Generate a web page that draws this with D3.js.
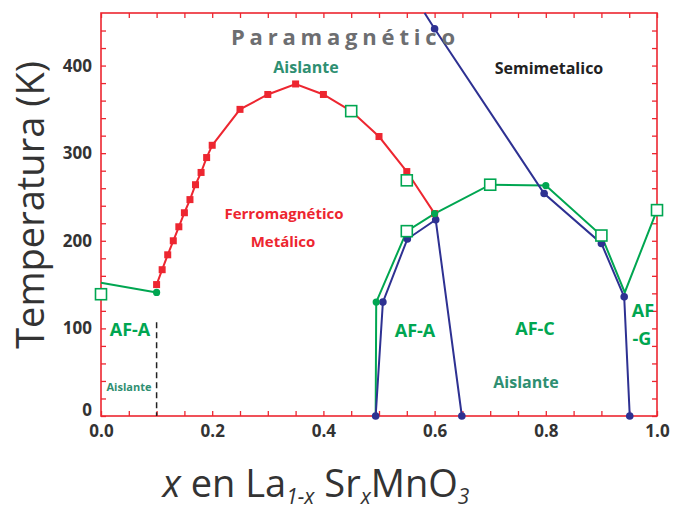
<!DOCTYPE html>
<html>
<head>
<meta charset="utf-8">
<script src="https://cdn.jsdelivr.net/npm/d3@7"></script>
<style>
  html, body { margin: 0; padding: 0; background: #fff; }
  svg { display: block; font-family: "Open Sans", "Noto Sans", sans-serif; }
</style>
</head>
<body>
<svg id="chart" width="674" height="510"></svg>
<script>
// ---------- data ----------
const xTickLabels = [0.0, 0.2, 0.4, 0.6, 0.8, 1.0];
const yTickLabels = [0, 100, 200, 300, 400];

// Ferromagnetic Tc (red filled squares)
const fmX = [0.10, 0.11, 0.12, 0.13, 0.14, 0.15, 0.16, 0.17, 0.18, 0.19, 0.20, 0.25, 0.30, 0.35, 0.40, 0.45, 0.50, 0.55, 0.60];
const fmT = [150, 167, 184, 200, 216, 232, 247, 264, 278, 295, 309, 350, 367, 379, 367, 348, 319, 279, 231];

// AF-A low-x segment (green line)
const afLowX = [0.0, 0.10];
const afLowT = [152, 141];

// Main AF boundary (green line)
const afX = [0.494, 0.495, 0.55, 0.60, 0.70, 0.80, 0.90, 0.942, 1.0];
const afT = [0, 130, 211, 231, 264, 263, 206, 141, 235];

// Green open squares
const openX = [0.0, 0.45, 0.55, 0.55, 0.70, 0.90, 1.0];
const openT = [139, 348, 269, 211, 264, 206, 235];

// Green filled circles
const gDotX = [0.10, 0.495, 0.60, 0.80];
const gDotT = [141, 130, 231, 263];

// Blue boundary A (AF-A dome)
const blueAX = [0.494, 0.507, 0.551, 0.602, 0.649];
const blueAT = [0, 130, 202, 224, 0];

// Blue boundary B (half-metal / AF-G)
const blueBX = [0.582, 0.60, 0.797, 0.90, 0.941, 0.951];
const blueBT = [460, 442, 254, 197, 136, 0];
const blueBMarked = [false, true, true, true, true, true];

// ---------- layout ----------
const svg = d3.select("#chart");
const L = 101, R = 657, T = 13, B = 416;
const x = d3.scaleLinear().domain([0, 1]).range([L, R]);
const y = d3.scaleLinear().domain([0, 460]).range([B, T]);

const RED = "#ed2630", GREEN = "#00a651", BLUE = "#2e3192", TEAL = "#2f8f72", GRAY = "#6d6e71", DARK = "#333333";

// ---------- axes & frame ----------
const tickFine = d3.range(0, 1.0001, 0.05);
const tickY = d3.range(0, 460, 20);

const styleTicks = g => { g.select(".domain").remove(); g.selectAll("line").attr("stroke", RED).attr("stroke-width", 1.3); };
svg.append("g").attr("transform", `translate(0,${B})`)
  .call(d3.axisBottom(x).tickValues(tickFine).tickSize(-5).tickFormat("")).call(styleTicks);
svg.append("g").attr("transform", `translate(0,${T})`)
  .call(d3.axisTop(x).tickValues(tickFine).tickSize(-5).tickFormat("")).call(styleTicks);
svg.append("g").attr("transform", `translate(${L},0)`)
  .call(d3.axisLeft(y).tickValues(tickY).tickSize(-5).tickFormat("")).call(styleTicks);
svg.append("g").attr("transform", `translate(${R},0)`)
  .call(d3.axisRight(y).tickValues(tickY).tickSize(-5).tickFormat("")).call(styleTicks);

// frame
svg.append("rect").attr("x", L).attr("y", T).attr("width", R - L).attr("height", B - T)
  .attr("fill", "none").attr("stroke", RED).attr("stroke-width", 1.6);

// tick labels
const styleLabels = g => { g.select(".domain").remove(); g.selectAll("text").attr("font-size", 17).attr("font-weight", "bold")
    .attr("fill", DARK).attr("font-family", "'Open Sans', sans-serif"); };
svg.append("g").attr("transform", `translate(0,${B + 1})`)
  .call(d3.axisBottom(x).tickValues(xTickLabels).tickSize(0).tickPadding(8).tickFormat(d3.format(".1f")))
  .call(styleLabels);
svg.append("g").attr("transform", `translate(${L},0)`)
  .call(d3.axisLeft(y).tickValues(yTickLabels).tickSize(0).tickPadding(9).tickFormat(d3.format("d")))
  .call(styleLabels)
  .call(g => g.selectAll(".tick").filter(d => d === 0).select("text").attr("dy", "-0.05em"));

// axis titles
svg.append("text").attr("transform", `translate(44,205) rotate(-90)`).attr("text-anchor", "middle")
  .attr("font-size", 38).attr("fill", DARK).text("Temperatura (K)");

const xt = svg.append("text").attr("x", 316).attr("y", 497).attr("text-anchor", "middle")
  .attr("font-size", 38).attr("fill", DARK);
xt.append("tspan").attr("font-style", "italic").text("x");
xt.append("tspan").text(" en La");
xt.append("tspan").attr("font-size", 21).attr("font-style", "italic").attr("dy", 7).text("1-x");
xt.append("tspan").attr("dy", -7).text(" Sr");
xt.append("tspan").attr("font-size", 21).attr("font-style", "italic").attr("dy", 7).text("x");
xt.append("tspan").attr("dy", -7).text("MnO");
xt.append("tspan").attr("font-size", 21).attr("font-style", "italic").attr("dy", 7).text("3");

// ---------- dashed line at x = 0.1 ----------
svg.append("line").attr("x1", x(0.1)).attr("x2", x(0.1)).attr("y1", y(107)).attr("y2", y(0))
  .attr("stroke", "#222").attr("stroke-width", 1.5).attr("stroke-dasharray", "6,4");

// ---------- lines ----------
const zip = (xs, ts) => xs.map((v, i) => [v, ts[i]]);
const line = d3.line().x(d => x(d[0])).y(d => y(d[1]));

svg.append("path").datum(zip(fmX, fmT)).attr("d", line).attr("fill", "none").attr("stroke", RED).attr("stroke-width", 2);
svg.append("path").datum(zip(afLowX, afLowT)).attr("d", line).attr("fill", "none").attr("stroke", GREEN).attr("stroke-width", 2);
svg.append("path").datum(zip(afX, afT)).attr("d", line).attr("fill", "none").attr("stroke", GREEN).attr("stroke-width", 2);
svg.append("path").datum(zip(blueAX, blueAT)).attr("d", line).attr("fill", "none").attr("stroke", BLUE).attr("stroke-width", 2);
svg.append("path").datum(zip(blueBX, blueBT)).attr("d", line).attr("fill", "none").attr("stroke", BLUE).attr("stroke-width", 2);

// ---------- markers ----------
svg.append("g").selectAll("rect").data(zip(fmX, fmT)).join("rect")
  .attr("x", d => x(d[0]) - 3.5).attr("y", d => y(d[1]) - 3.5).attr("width", 7).attr("height", 7).attr("fill", RED);

svg.append("g").selectAll("circle").data(zip(blueAX, blueAT)).join("circle")
  .attr("cx", d => x(d[0])).attr("cy", d => y(d[1])).attr("r", 3.8).attr("fill", BLUE);
svg.append("g").selectAll("circle").data(zip(blueBX, blueBT).filter((d, i) => blueBMarked[i])).join("circle")
  .attr("cx", d => x(d[0])).attr("cy", d => y(d[1])).attr("r", 3.8).attr("fill", BLUE);

svg.append("g").selectAll("circle").data(zip(gDotX, gDotT)).join("circle")
  .attr("cx", d => x(d[0])).attr("cy", d => y(d[1])).attr("r", 3.6).attr("fill", GREEN);

svg.append("g").selectAll("rect").data(zip(openX, openT)).join("rect")
  .attr("x", d => x(d[0]) - 5.5).attr("y", d => y(d[1]) - 5.5).attr("width", 11).attr("height", 11)
  .attr("fill", "#fff").attr("stroke", GREEN).attr("stroke-width", 1.6);

// ---------- region labels ----------
function label(txt, cx, by, size, color, extra) {
  const t = svg.append("text").attr("x", cx).attr("y", by).attr("text-anchor", "middle")
    .attr("font-size", size).attr("font-weight", "bold").attr("fill", color).text(txt);
  if (extra) extra(t);
  return t;
}
label("Paramagnético", 343, 45, 22, GRAY, t => t.attr("textLength", 224).attr("lengthAdjust", "spacing"));
label("Aislante", 306, 72.5, 16, TEAL);
label("Semimetalico", 549, 74, 16, "#222");
label("Ferromagnético", 284, 218.5, 15, RED);
label("Metálico", 283, 246.5, 15, RED);
label("AF-A", 130, 336, 18, GREEN);
label("Aislante", 129, 390.5, 11, TEAL);
label("AF-A", 415, 337, 18, GREEN);
label("AF-C", 535, 335, 18, GREEN);
label("Aislante", 526, 388, 16, TEAL);
label("AF", 643, 317, 18, GREEN);
label("-G", 642, 345, 18, GREEN);
</script>
</body>
</html>
